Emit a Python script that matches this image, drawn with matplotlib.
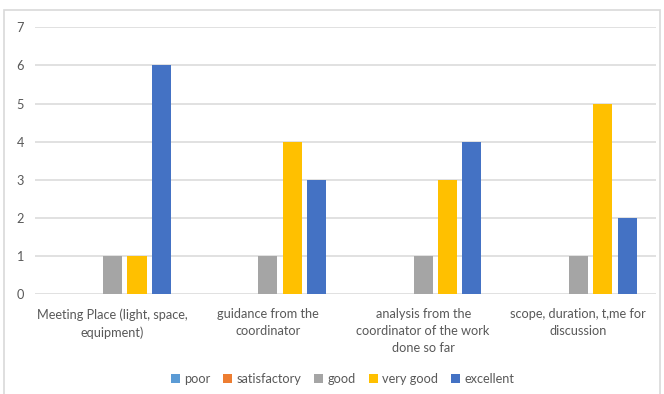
import numpy as np
import matplotlib
matplotlib.use('Agg')
from matplotlib import pyplot as plt
from matplotlib.patches import Rectangle

categories = ['Meeting Place (light, space,\nequipment)',
              'guidance from the\ncoordinator',
              'analysis from the\ncoordinator of the work\ndone so far',
              'scope, duration, t,me for\ndiscussion']
series = ['poor', 'satisfactory', 'good', 'very good', 'excellent']
poor = [0, 0, 0, 0]
satisfactory = [0, 0, 0, 0]
good = [1, 1, 1, 1]
very_good = [1, 4, 3, 5]
excellent = [6, 3, 4, 2]
colors = ['#5B9BD5', '#ED7D31', '#A5A5A5', '#FFC000', '#4472C4']

plt.rcParams['font.family'] = ['Lato', 'DejaVu Sans']
txt = '#595959'

fig = plt.figure(figsize=(6.64, 3.94), dpi=100)
# chart border (light grey frame, runs off the bottom edge)
fig.patches.append(Rectangle((4/664, -0.1), 656/664, 1.1 - 10/394,
                             transform=fig.transFigure, fill=False,
                             edgecolor='#D9D9D9', linewidth=1.2))
ax = fig.add_axes([35/664, 1 - 294.3/394, 621/664, 267/394])

x = np.arange(len(categories))
pitch = 0.157
width = 0.123
values = [poor, satisfactory, good, very_good, excellent]
for i, (name, vals, c) in enumerate(zip(series, values, colors)):
    ax.bar(x + (i - 2) * pitch, vals, width, color=c, label=name, zorder=3)

ax.set_xlim(-0.5, len(categories) - 0.5)
ax.set_ylim(0, 7)
ax.set_yticks(range(0, 8))
ax.yaxis.grid(True, color='#D9D9D9', linewidth=1.1, zorder=0)
ax.set_xticks(x)
ax.set_xticklabels(categories, linespacing=1.5)
ax.tick_params(axis='both', length=0, colors=txt, labelsize=9.2)
ax.tick_params(axis='y', pad=8)
ax.tick_params(axis='x', pad=10)
for s in ax.spines.values():
    s.set_visible(False)

leg = ax.legend(loc='upper center', bbox_to_anchor=(0.495, -0.25), ncol=5,
                frameon=False, fontsize=9.2, handlelength=0.7, handleheight=0.7,
                handletextpad=0.35, columnspacing=1.0, labelcolor=txt)

plt.savefig('out.png', dpi=100)
